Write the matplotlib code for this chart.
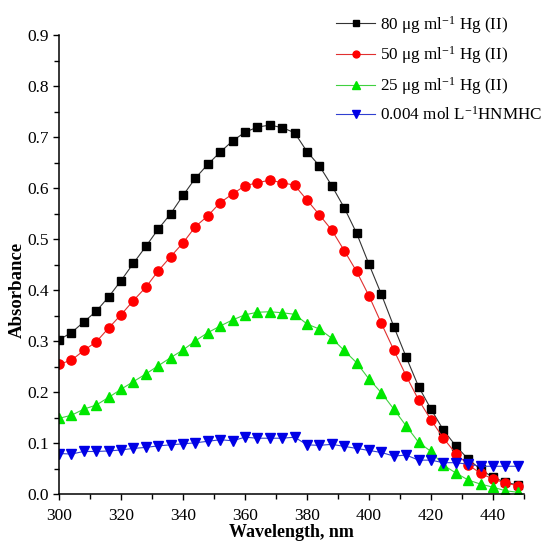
import numpy as np
import matplotlib
matplotlib.use("Agg")
import matplotlib.pyplot as plt
from matplotlib.ticker import MultipleLocator, FormatStrFormatter

plt.rcParams["font.family"] = ["Liberation Serif", "DejaVu Serif"]
plt.rcParams["mathtext.fontset"] = "custom"
plt.rcParams["mathtext.rm"] = "Liberation Serif"
plt.rcParams["mathtext.it"] = "Liberation Serif:italic"
plt.rcParams["mathtext.bf"] = "Liberation Serif:bold"

# Wavelengths (nm), sampled every 4 nm
wavelength = np.arange(300, 449, 4)

hg_80 = [0.303, 0.317, 0.338, 0.359, 0.387, 0.419, 0.453, 0.486, 0.520, 0.550,
         0.586, 0.620, 0.647, 0.671, 0.693, 0.710, 0.720, 0.724, 0.719, 0.709,
         0.672, 0.644, 0.605, 0.562, 0.512, 0.451, 0.392, 0.329, 0.269, 0.211,
         0.167, 0.126, 0.095, 0.069, 0.049, 0.033, 0.024, 0.018]

hg_50 = [0.255, 0.263, 0.282, 0.299, 0.326, 0.352, 0.380, 0.406, 0.438, 0.466,
         0.493, 0.525, 0.546, 0.572, 0.589, 0.605, 0.611, 0.616, 0.611, 0.606,
         0.577, 0.548, 0.518, 0.478, 0.437, 0.389, 0.335, 0.283, 0.232, 0.185,
         0.146, 0.110, 0.080, 0.058, 0.041, 0.030, 0.022, 0.017]

hg_25 = [0.149, 0.155, 0.167, 0.175, 0.190, 0.206, 0.221, 0.236, 0.252, 0.268,
         0.283, 0.301, 0.317, 0.330, 0.342, 0.352, 0.357, 0.358, 0.356, 0.353,
         0.334, 0.324, 0.306, 0.282, 0.258, 0.226, 0.199, 0.167, 0.134, 0.102,
         0.084, 0.057, 0.042, 0.028, 0.020, 0.014, 0.007, 0.004]

hnmhc = [0.080, 0.079, 0.084, 0.084, 0.085, 0.087, 0.090, 0.092, 0.095, 0.097,
         0.099, 0.101, 0.104, 0.107, 0.105, 0.112, 0.110, 0.110, 0.110, 0.112,
         0.097, 0.096, 0.098, 0.094, 0.090, 0.086, 0.082, 0.075, 0.077, 0.067,
         0.067, 0.062, 0.062, 0.059, 0.055, 0.055, 0.055, 0.055]

labels = [
    r"80 μg ml$^{\mathrm{-1}}$ Hg (II)",
    r"50 μg ml$^{\mathrm{-1}}$ Hg (II)",
    r"25 μg ml$^{\mathrm{-1}}$ Hg (II)",
    r"0.004 mol L$^{\mathrm{-1}}$HNMHC",
]

fig = plt.figure(figsize=(5.43, 5.45), dpi=100)
ax = fig.add_axes([0.1087, 0.093, 0.8563, 0.8422])

series = [
    (hg_80, "s", "#000000", "#333333", 5.6),
    (hg_50, "o", "#ff0000", "#e03030", 6.6),
    (hg_25, "^", "#00e600", "#40d040", 7.2),
    (hnmhc, "v", "#0000e6", "#3040d0", 7.2),
]
for (vals, mk, mc, lc, ms), lab in zip(series, labels):
    ax.plot(wavelength, vals, color=lc, lw=0.8, marker=mk, markersize=ms,
            markerfacecolor=mc, markeredgecolor=mc, label=lab)

ax.set_xlim(300, 450)
ax.set_ylim(0, 0.9)
ax.xaxis.set_major_locator(MultipleLocator(20))
ax.xaxis.set_minor_locator(MultipleLocator(10))
ax.yaxis.set_major_locator(MultipleLocator(0.1))
ax.yaxis.set_minor_locator(MultipleLocator(0.05))
ax.yaxis.set_major_formatter(FormatStrFormatter("%.1f"))
ax.set_xticks([300, 320, 340, 360, 380, 400, 420, 440])

for side in ("top", "right"):
    ax.spines[side].set_visible(False)
for side in ("left", "bottom"):
    ax.spines[side].set_linewidth(1.1)

ax.tick_params(which="major", direction="out", length=4.5, width=1.0,
               labelsize=12.5, pad=3)
ax.tick_params(axis="x", which="major", pad=5)
ax.tick_params(which="minor", direction="out", length=3.5, width=1.0)

ax.set_xlabel("Wavelength, nm", fontsize=13, fontweight="bold", labelpad=0.5)
ax.set_ylabel("Absorbance", fontsize=13.5, fontweight="bold")
ax.yaxis.set_label_coords(-0.072, 0.445)

leg = ax.legend(loc="upper right", bbox_to_anchor=(1.055, 1.062), frameon=False,
                fontsize=12.3, handlelength=2.3, handletextpad=0.3,
                labelspacing=0.52, markerscale=0.75, borderaxespad=0)

fig.savefig("out.png", dpi=100)
